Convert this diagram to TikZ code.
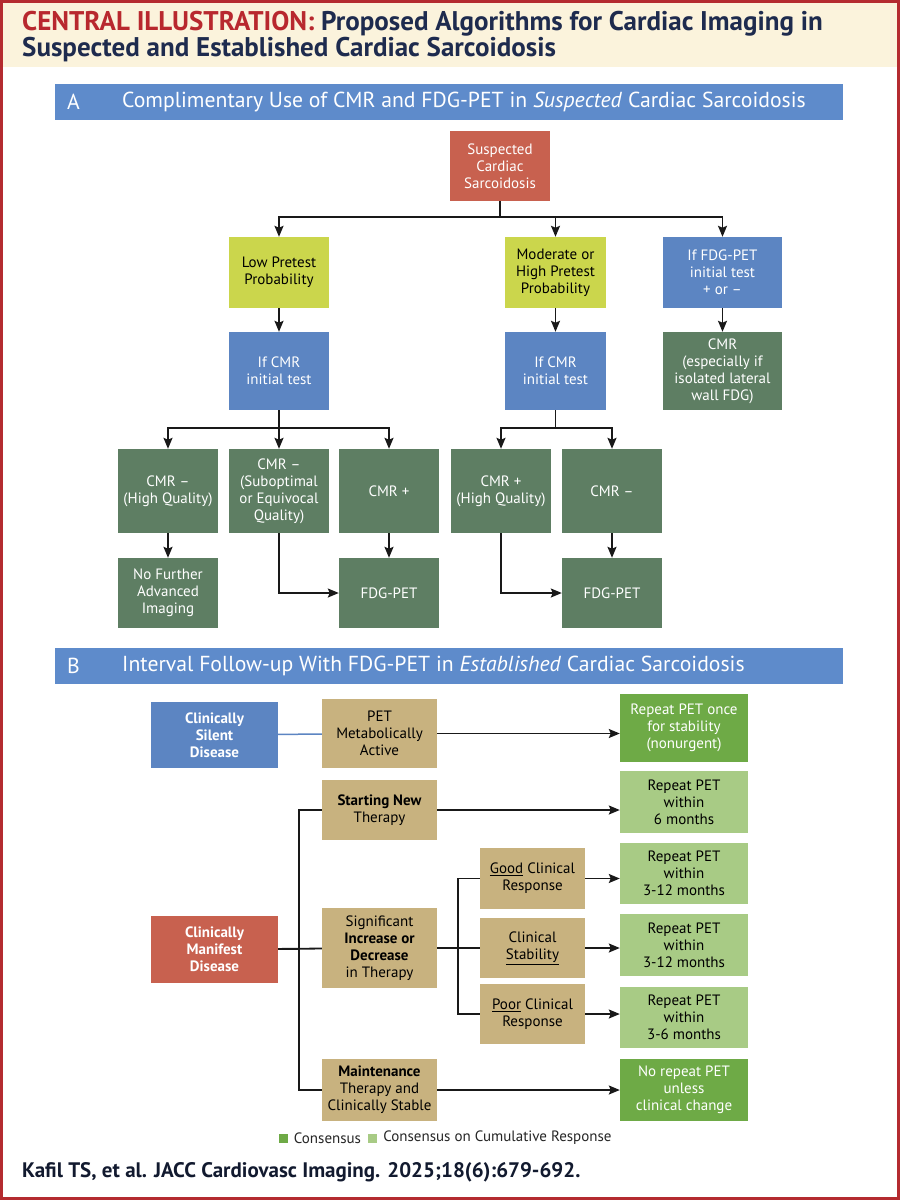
\documentclass[tikz,border=0pt]{standalone}
\usepackage{fontspec}
\setmainfont{PT Sans}
\usepackage{tikz}
\usetikzlibrary{arrows.meta,calc}
\definecolor{frame}{HTML}{B42B30}
\definecolor{cream}{HTML}{FBF3DC}
\definecolor{illred}{HTML}{B8282E}
\definecolor{navy}{HTML}{1E2B4E}
\definecolor{headblue}{HTML}{5E8BCB}
\definecolor{salmon}{HTML}{C8614F}
\definecolor{lime}{HTML}{CBD64C}
\definecolor{steel}{HTML}{5C85C2}
\definecolor{cmrgreen}{HTML}{5E7E63}
\definecolor{tan}{HTML}{C8B27F}
\definecolor{consgreen}{HTML}{6EAA46}
\definecolor{cumgreen}{HTML}{A8CB85}
\newcommand{\flowfont}{\fontsize{15}{17}\selectfont}
\newcommand{\headfont}{\fontsize{21.7}{24}\selectfont}

\begin{document}
\begin{tikzpicture}[x=1pt,y=-1pt]
\tikzstyle{box}=[rectangle, inner sep=1pt, align=center, font=\flowfont, minimum width=100pt, minimum height=70pt]
\tikzstyle{redbox}=[box, fill=salmon, text=white]
\tikzstyle{limebox}=[box, fill=lime, text=black]
\tikzstyle{bluebox}=[box, fill=steel, text=white]
\tikzstyle{cmrbox}=[box, fill=cmrgreen, text=white]
\tikzstyle{tanbox}=[box, fill=tan, text=black, minimum width=115pt]
\tikzstyle{consbox}=[box, fill=consgreen, text=white, minimum width=128pt]
\tikzstyle{cumbox}=[box, fill=cumgreen, text=black, minimum width=128pt]
\tikzstyle{header}=[rectangle, fill=headblue, minimum width=788pt, minimum height=36pt, anchor=north west]
\tikzstyle{headtext}=[anchor=west, text=white, font=\headfont, inner sep=0]
\tikzstyle{line}=[line width=1.8pt, black!90]
\tikzstyle{connect}=[line, -{Stealth[length=11pt,width=9pt,inset=2pt]}]

\useasboundingbox (0,0) rectangle (900,1200);
\fill[white] (0,0) rectangle (900,1200);
\fill[cream] (3,3) rectangle (897,67);
\draw[frame, line width=3pt] (1.5,1.5) rectangle (898.5,1198.5);

\node[anchor=north west, align=left, inner sep=0, text=navy, font=\bfseries\fontsize{27}{23.5}\selectfont] (title) at (22,11)
  {\textcolor{illred}{CENTRAL ILLUSTRATION:} Proposed Algorithms for Cardiac Imaging in\\Suspected and Established Cardiac Sarcoidosis};

% A
\node[header] (hdrA) at (55,84) {};
\node[headtext] (hdrAlbl) at ([xshift=12pt]hdrA.west) {A};
\node[headtext] (hdrAtxt) at ([xshift=67pt]hdrA.west) {Complimentary Use of CMR and FDG-PET in \textit{Suspected} Cardiac Sarcoidosis};

\node[redbox] (susp) at (500,166) {Suspected\\Cardiac\\Sarcoidosis};
\node[limebox, minimum height=71pt] (low) at (279,272.5) {Low Pretest\\Probability};
\node[limebox, minimum width=101pt, minimum height=71pt] (mod) at (555.5,272.5) {Moderate or\\High Pretest\\Probability};
\node[bluebox, minimum width=119pt, minimum height=71pt] (fdg) at (722.5,272.5) {If FDG-PET\\initial test\\+ or --};

\node[bluebox, minimum height=78pt, node distance=98.5pt] (lowcmr) [below of =low] {If CMR\\initial test};
\node[bluebox, minimum width=101pt, minimum height=78pt, node distance=98.5pt] (modcmr) [below of =mod] {If CMR\\initial test};
\node[cmrbox, minimum width=119pt, minimum height=78pt, node distance=98.5pt] (fdgcmr) [below of =fdg] {CMR\\(especially if\\isolated lateral\\wall FDG)};

\node[cmrbox, minimum height=84pt, node distance=120pt] (sub) [below of =lowcmr] {CMR --\\(Suboptimal\\or Equivocal\\Quality)};
\node[cmrbox, minimum height=84pt, node distance=111pt] (hq) [left of =sub] {CMR --\\(High Quality)};
\node[cmrbox, minimum height=84pt, node distance=110pt] (pos) [right of =sub] {CMR +};
\node[cmrbox, minimum height=84pt] (poshq) at (501,491) {CMR +\\(High Quality)};
\node[cmrbox, minimum height=84pt, node distance=111pt] (neg) [right of =poshq] {CMR --};

\node[cmrbox, node distance=102pt] (nofurther) [below of =hq] {No Further\\Advanced\\Imaging};
\node[cmrbox, node distance=102pt] (fdgA) [below of =pos] {FDG-PET};
\node[cmrbox, node distance=102pt] (fdgB) [below of =neg] {FDG-PET};

\draw[connect] (susp.south) -- ++(0,16) -| (low.north);
\draw[connect] (susp.south) -- ++(0,16) -| (mod.north);
\draw[connect] (susp.south) -- ++(0,16) -| (fdg.north);
\draw[connect] (low) -- (lowcmr);
\draw[connect] (mod) -- (modcmr);
\draw[connect] (fdg) -- (fdgcmr);
\draw[connect] (lowcmr.south) -- ++(0,18) -| (hq.north);
\draw[connect] (lowcmr.south) -- (sub.north);
\draw[connect] (lowcmr.south) -- ++(0,18) -| (pos.north);
\draw[connect] (modcmr.south) -- ++(0,18) -| (poshq.north);
\draw[connect] (modcmr.south) -- ++(0,18) -| (neg.north);
\draw[connect] (hq) -- (nofurther);
\draw[connect] (pos) -- (fdgA);
\draw[connect] (neg) -- (fdgB);
\draw[connect] (sub.south) |- (fdgA.west);
\draw[connect] (poshq.south) |- (fdgB.west);

% B
\node[header] (hdrB) at (55,648) {};
\node[headtext] (hdrBlbl) at ([xshift=12pt]hdrB.west) {B};
\node[headtext] (hdrBtxt) at ([xshift=67pt]hdrB.west) {Interval Follow-up With FDG-PET in \textit{Established} Cardiac Sarcoidosis};

\node[bluebox, minimum width=127pt, minimum height=66pt, font=\flowfont\bfseries] (silent) at (214.5,735) {Clinically\\Silent\\Disease};
\node[redbox, minimum width=127pt, minimum height=67pt, font=\flowfont\bfseries] (manifest) at (214.5,949.5) {Clinically\\Manifest\\Disease};

\node[tanbox, minimum height=69pt] (active) at (379.5,733.5) {PET\\Metabolically\\Active};
\node[tanbox, minimum height=60pt] (start) at (379.5,810) {\textbf{Starting New}\\Therapy};
\node[tanbox, minimum height=80pt] (signif) at (379.5,948) {Significant\\\textbf{Increase or}\\\textbf{Decrease}\\in Therapy};
\node[tanbox, minimum height=62pt] (maint) at (379.5,1090) {\textbf{Maintenance}\\Therapy and\\Clinically Stable};

\node[tanbox, minimum width=105pt, minimum height=61pt] (good) at (532.5,878.5) {\underline{Good} Clinical\\Response};
\node[tanbox, minimum width=105pt, minimum height=60pt] (stab) at (532.5,948) {Clinical\\\underline{Stability}};
\node[tanbox, minimum width=105pt, minimum height=60pt] (poor) at (532.5,1014) {\underline{Poor} Clinical\\Response};

\node[consbox, minimum height=68pt] (once) at (684,728) {Repeat PET once\\for stability\\(nonurgent)};
\node[cumbox, minimum height=62pt] (six) at (684,802) {Repeat PET\\within\\6 months};
\node[cumbox, minimum height=61pt] (twelveA) at (684,873.5) {Repeat PET\\within\\3-12 months};
\node[cumbox, minimum height=62pt] (twelveB) at (684,945) {Repeat PET\\within\\3-12 months};
\node[cumbox, minimum height=61pt] (three) at (684,1017.5) {Repeat PET\\within\\3-6 months};
\node[consbox, minimum height=62pt] (norepeat) at (684,1090) {No repeat PET\\unless\\clinical change};

\draw[line width=1.5pt, steel] (silent) -- (active);
\draw[connect] (active) -- (active -| once.west);
\draw[connect] (start) -- (start -| six.west);
\draw[connect] (maint) -- (maint -| norepeat.west);
\draw[line] (manifest) -- (signif);
\draw[line] (manifest.east) -- ++(21,0) |- (start.west);
\draw[line] (manifest.east) -- ++(21,0) |- (maint.west);
\draw[line] (signif) -- (stab);
\draw[line] (signif.east) -- ++(21,0) |- (good.west);
\draw[line] (signif.east) -- ++(21,0) |- (poor.west);
\draw[connect] (good) -- (good -| twelveA.west);
\draw[connect] (stab) -- (stab -| twelveB.west);
\draw[connect] (poor) -- (poor -| three.west);

% legend and source
\node[fill=consgreen, minimum size=9pt, inner sep=0] (legA) at (283,1138) {};
\node[anchor=west, inner sep=0, font=\fontsize{15}{17}\selectfont, text=black!85] (legAtxt) at ([xshift=6pt]legA.east) {Consensus};
\node[fill=cumgreen, minimum size=9pt, inner sep=0, right of =legAtxt, node distance=45pt] (legB) {};
\node[anchor=west, inner sep=0, font=\fontsize{15}{17}\selectfont, text=black!85] (legBtxt) at ([xshift=6pt]legB.east) {Consensus on Cumulative Response};

\node[anchor=west, inner sep=0, text=navy!60!black, font=\bfseries\fontsize{21}{23}\selectfont] (cite) at (22,1172) {Kafil TS, et al. JACC Cardiovasc Imaging. 2025;18(6):679-692.};
\end{tikzpicture}
\end{document}
